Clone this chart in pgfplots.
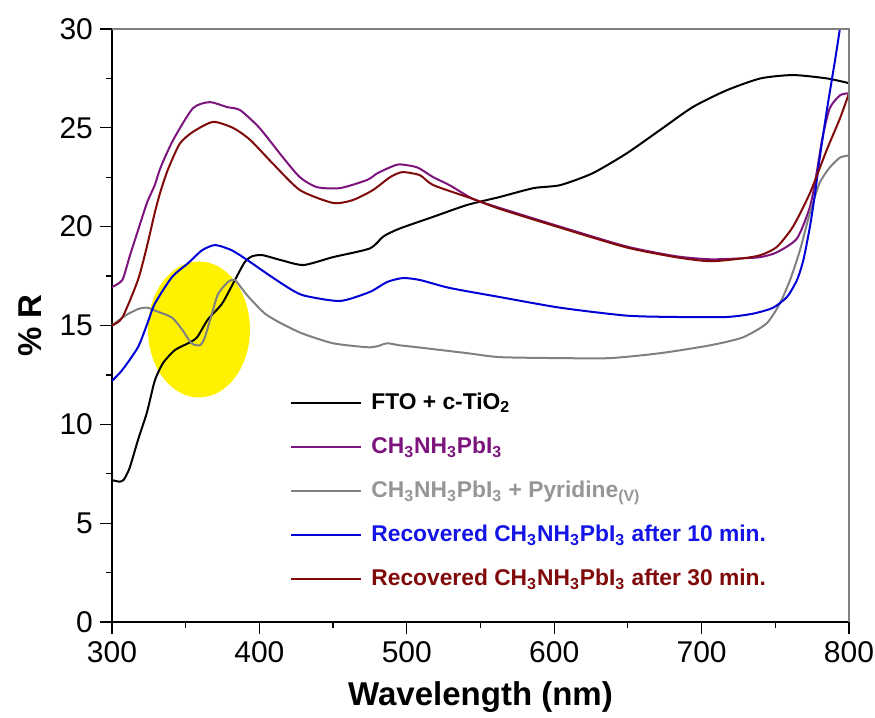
\documentclass[border=0pt]{standalone}
\usepackage{pgfplots}
\pgfplotsset{compat=1.18}
\usepackage{fontspec}
\setmainfont{Liberation Sans}
\definecolor{cpurple}{RGB}{125,20,125}
\definecolor{cgray}{RGB}{128,128,128}
\definecolor{cblue}{RGB}{0,0,215}
\definecolor{cred}{RGB}{128,10,10}
\definecolor{tgray}{RGB}{150,150,150}
\definecolor{tblue}{RGB}{20,20,230}
\begin{document}
\begin{tikzpicture}
\begin{axis}[
  scale only axis, width=368.5pt, height=296.5pt,
  xmin=300, xmax=800, ymin=0, ymax=30,
  clip=false,
  axis lines=left, axis line style={-, line width=0.8pt, black},
  xtick={300,400,...,800}, ytick={0,5,...,30},
  minor x tick num=1, minor y tick num=1,
  tick align=outside, major tick length=6pt, minor tick length=3pt,
  tick style={black, line width=0.6pt},
  /pgf/number format/assume math mode=true,
  tick label style={font=\fontsize{15}{18}\selectfont},
  legend style={at={(axis description cs:0.2415,0.394)}, anchor=north west, draw=none, fill=none,
    inner sep=0pt, row sep=8.3pt, font=\fontsize{11.4}{13}\selectfont\bfseries, cells={anchor=west},
    /tikz/every odd column/.append style={column sep=2.5pt}},
  legend image code/.code={\draw[#1] (0pt,0pt) -- (35pt,0pt);},
  every axis plot/.append style={line width=1pt, smooth, tension=0.4},
]
\fill[yellow] (axis cs:359,14.8) ellipse [x radius=34.6, y radius=3.44];

\addplot[black] coordinates {
(300,7.18) (305,7.1) (308,7.2) (312,7.8) (317.6,9.2) (323.7,10.6) (329,12.2) (334.6,13.1)
(342.7,13.76) (351.6,14.1) (357.7,14.4) (365,15.3) (374.6,16.1) (383.4,17.3) (390,18.2)
(395,18.5) (402,18.56) (415,18.3) (430,18.06) (450,18.46) (475,18.9) (484,19.5) (495,19.9)
(518,20.5) (541,21.1) (563,21.5) (586,21.95) (604,22.1) (626,22.7) (649,23.7) (672,24.9)
(694,26.05) (717,26.9) (740,27.5) (762,27.67) (785,27.5) (800,27.26)};
\addlegendentry{FTO + c-TiO\textsubscript{2}}

\addplot[cpurple] coordinates {
(300,16.95) (307,17.3) (312,18.5) (317.6,19.8) (323.7,21.2) (329,22.1) (333,23.0) (341.6,24.4)
(355,26.0) (366.5,26.3) (378,26.05) (386.8,25.9) (400,25.0) (416,23.5) (427.5,22.5) (439,22.0)
(454.7,21.95) (473,22.36) (480,22.7) (488.6,23.0) (495,23.15) (507,23.0) (518,22.5) (529,22.1)
(545,21.4) (563,20.95) (604,20.0) (649,19.0) (683,18.5) (706,18.35) (728,18.4) (740,18.46)
(751,18.7) (764.7,19.4) (773.5,21.0) (778,22.7) (782,24.5) (787,26.0) (794,26.65) (800,26.75)};
\addlegendentry{\textcolor{cpurple}{CH\textsubscript{3}NH\textsubscript{3}PbI\textsubscript{3}}}

\addplot[cgray] coordinates {
(300,15.0) (309,15.5) (317.6,15.83) (324,15.9) (331,15.7) (340.7,15.4) (347.5,14.8) (354,14.1)
(359.7,14.0) (363,14.4) (367.8,15.6) (372,16.6) (378.7,17.2) (383.4,17.3) (392,16.5) (403.8,15.6)
(415,15.1) (429,14.6) (450,14.1) (473,13.9) (480,13.95) (486.6,14.1) (495,14.0) (507,13.9)
(541,13.6) (563,13.4) (604,13.35) (638,13.35) (672,13.6) (706,14.0) (728,14.4) (744,15.1)
(753,16.1) (760,17.3) (766.7,18.8) (773.5,20.7) (780,22.2) (787,23.0) (794,23.5) (800,23.6)};
\addlegendentry{\textcolor{tgray}{CH\textsubscript{3}NH\textsubscript{3}PbI\textsubscript{3} + Pyridine\textsubscript{(V)}}}

\addplot[cblue] coordinates {
(300,12.2) (307,12.75) (317.6,13.9) (324,15.1) (329,16.1) (340.7,17.45) (351.6,18.15) (361,18.8)
(370,19.07) (381.4,18.8) (392,18.3) (408.5,17.45) (422,16.8) (431,16.5) (454.7,16.24) (475,16.7)
(486.6,17.2) (497.4,17.4) (509,17.3) (529,16.9) (563,16.44) (604,15.9) (649,15.5) (683,15.43)
(717,15.43) (735,15.6) (748.5,15.9) (758,16.45) (764.7,17.3) (769,18.3) (773.5,20.0) (777,21.7)
(780,23.4) (785,25.9) (790.5,28.4) (793.8,30.0)};
\addlegendentry{\textcolor{tblue}{Recovered CH\textsubscript{3}NH\textsubscript{3}PbI\textsubscript{3} after 10 min.}}

\addplot[cred] coordinates {
(300,15.0) (307,15.4) (317.6,17.3) (323.7,19.0) (329,20.7) (333,21.8) (338,22.9) (346,24.2)
(355,24.8) (368.5,25.3) (382,25.0) (393.6,24.4) (409,23.2) (427.5,21.85) (450,21.2) (463.5,21.35)
(477,21.85) (488.6,22.5) (497,22.76) (509,22.6) (518,22.1) (545,21.4) (563,20.9) (604,19.95)
(649,18.95) (683,18.45) (706,18.25) (728,18.4) (740,18.56) (751,18.97) (762,20.0) (773.5,21.7)
(785,23.9) (794,25.5) (800,26.75)};
\addlegendentry{\textcolor{cred}{Recovered CH\textsubscript{3}NH\textsubscript{3}PbI\textsubscript{3} after 30 min.}}

\draw[gray, line width=0.8pt] (rel axis cs:0,1) -- (rel axis cs:1,1) -- (rel axis cs:1,0);
\node[font=\fontsize{16.5}{20}\selectfont\bfseries] at ([yshift=-37.5pt]axis description cs:0.5,0) {Wavelength (nm)};
\node[font=\fontsize{16.5}{20}\selectfont\bfseries, rotate=90] at ([xshift=-41pt]axis description cs:0,0.5) {\% R};
\end{axis}
\pgfresetboundingbox
\path (-56pt,-48pt) rectangle (381.5pt,311pt);
\end{tikzpicture}
\end{document}
